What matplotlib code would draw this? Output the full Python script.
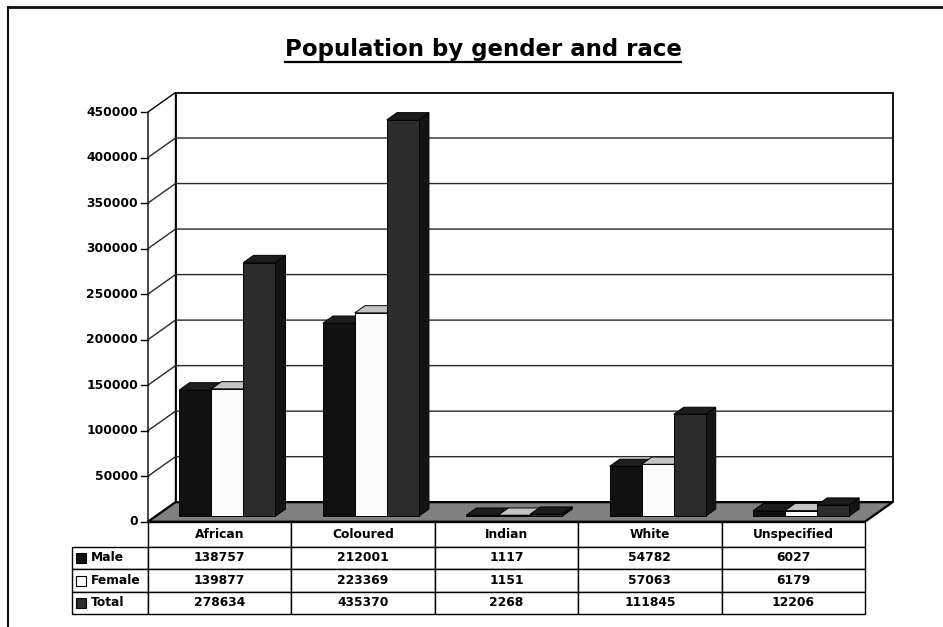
import matplotlib
matplotlib.use("Agg")
import matplotlib.pyplot as plt
from matplotlib.patches import Polygon, Rectangle
from matplotlib.lines import Line2D
from matplotlib.table import Table

plt.rcParams['font.family'] = ['DejaVu Sans']
plt.rcParams['font.weight'] = 'bold'

# data
categories = ['African', 'Coloured', 'Indian', 'White', 'Unspecified']
series_names = ['Male', 'Female', 'Total']
male = [138757, 212001, 1117, 54782, 6027]
female = [139877, 223369, 1151, 57063, 6179]
total = [278634, 435370, 2268, 111845, 12206]
yticks = [0, 50000, 100000, 150000, 200000, 250000, 300000, 350000, 400000, 450000]

series = [male, female, total]
# (front, top, side) colours per series
colours = [('#111111', '#1e1e1e', '#070707'),
           ('#fbfbfb', '#c4c4c4', '#a0a0a0'),
           ('#2c2c2c', '#1c1c1c', '#141414')]
key_colours = ['#111111', 'white', '#2c2c2c']

W, H = 943, 627
fig = plt.figure(figsize=(W / 100, H / 100), dpi=100)
fig.patch.set_facecolor('white')

# front plane of the 3d box, in pixels
px_left, px_right, px_zero, px_top = 148, 865, 521.7, 112
ax = fig.add_axes([px_left / W, (H - px_zero) / H,
                   (px_right - px_left) / W, (px_zero - px_top) / H])
ncat = len(categories)
ymax = yticks[-1]
ax.set_xlim(0, ncat)
ax.set_ylim(0, ymax)
ax.axis('off')

# depth offset (pixels -> data units)
DX = 27.5 / (px_right - px_left) * ncat
DY = 19.5 / (px_zero - px_top) * ymax


def p(x, y, d):
    return (x + d * DX, y + d * DY)


def poly(pts, fc, lw=0.8, z=1, ec='black'):
    ax.add_patch(Polygon(pts, closed=True, facecolor=fc, edgecolor=ec,
                         linewidth=lw, clip_on=False, zorder=z))


# walls and floor
poly([p(0, 0, 1), p(ncat, 0, 1), p(ncat, ymax, 1), p(0, ymax, 1)], 'white', lw=1.3, z=1)
poly([p(0, 0, 0), p(0, 0, 1), p(0, ymax, 1), p(0, ymax, 0)], 'white', lw=1.0, z=1)
for v in yticks[1:-1]:
    a, b, c = p(0, v, 0), p(0, v, 1), p(ncat, v, 1)
    ax.plot([a[0], b[0], c[0]], [a[1], b[1], c[1]], color='#2a2a2a', lw=1.0,
            clip_on=False, zorder=2)
poly([p(0, 0, 0), p(ncat, 0, 0), p(ncat, 0, 1), p(0, 0, 1)], '#808080', lw=1.6, z=3)

# y axis ticks and labels
tick = 7 / (px_right - px_left) * ncat
for v in yticks:
    ax.plot([-tick, 0], [v, v], color='black', lw=1.0, clip_on=False, zorder=4)
    ax.text(-tick - 0.02, v, str(v), ha='right', va='center', fontsize=8.8,
            fontweight='bold')

# bars
bw = 0.223
off = (1 - len(series) * bw) / 2
d0, d1 = 0.28, 0.65
z = 5
for i in range(ncat):
    for j, vals in enumerate(series):
        h = vals[i]
        x0 = i + off + j * bw
        x1 = x0 + bw
        fc, tc, sc = colours[j]
        poly([p(x1, 0, d0), p(x1, 0, d1), p(x1, h, d1), p(x1, h, d0)], sc, lw=0.7, z=z)
        poly([p(x0, h, d0), p(x1, h, d0), p(x1, h, d1), p(x0, h, d1)], tc, lw=0.7, z=z + 1)
        poly([p(x0, 0, d0), p(x1, 0, d0), p(x1, h, d0), p(x0, h, d0)], fc, lw=0.7, z=z + 2)
        z += 3

# data table below the chart
label_w, col_w = 75.5, (px_right - px_left) / ncat
row_h = [25, 22.3, 23, 22]
tbl_left = (px_left - label_w - px_left) / (px_right - px_left)
tbl_h = sum(row_h) / (px_zero - px_top)
tbl = Table(ax, bbox=[tbl_left, -tbl_h, 1 - tbl_left, tbl_h])
for j, cat in enumerate(categories):
    tbl.add_cell(0, j + 1, width=col_w, height=row_h[0], text=cat, loc='center')
for r, name in enumerate(series_names):
    c = tbl.add_cell(r + 1, 0, width=label_w, height=row_h[r + 1], text=name, loc='left')
    c.PAD = 0.24
    for j in range(ncat):
        tbl.add_cell(r + 1, j + 1, width=col_w, height=row_h[r + 1],
                     text=str(series[r][j]), loc='center')
tbl.auto_set_font_size(False)
tbl.set_fontsize(8.8)
for cell in tbl.get_celld().values():
    cell.set_linewidth(1.0)
    cell.get_text().set_fontweight('bold')
ax.add_table(tbl)

# legend keys in the row label cells
unit = px_zero - px_top
y = -row_h[0] / unit
for r in range(len(series_names)):
    yc = y - row_h[r + 1] / 2 / unit
    ax.add_patch(Rectangle(((76 - px_left) / (px_right - px_left), yc - 5 / unit),
                           10 / (px_right - px_left), 10 / unit,
                           transform=ax.transAxes, facecolor=key_colours[r],
                           edgecolor='black', lw=0.8, clip_on=False, zorder=20))
    y -= row_h[r + 1] / unit

# title with underline
title = fig.text(483 / W, 1 - 56 / H, 'Population by gender and race', ha='center',
                 va='baseline', fontsize=16.5, fontweight='bold')
fig.canvas.draw()
bb = title.get_window_extent()
fig.add_artist(Line2D([bb.x0 / W, bb.x1 / W], [1 - 62 / H] * 2, color='black', lw=1.6))

# outer frame (right and bottom fall outside the picture)
fig.add_artist(Line2D([8 / W, 1], [1 - 7 / H] * 2, color='#111111', lw=2))
fig.add_artist(Line2D([8 / W] * 2, [0, 1 - 7 / H], color='#111111', lw=1.5))

fig.savefig('out.png', dpi=100)
